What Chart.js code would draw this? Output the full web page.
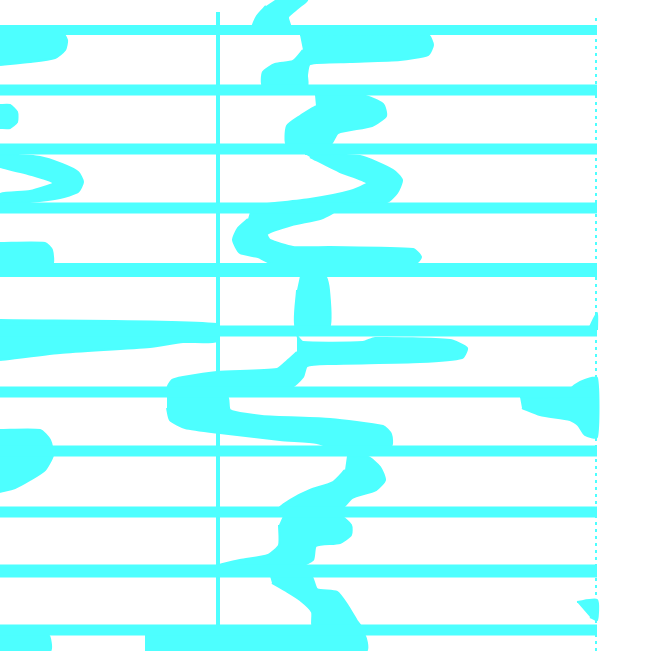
<!DOCTYPE html>
<html>
<head>
<meta charset="utf-8">
<script src="https://cdn.jsdelivr.net/npm/chart.js@4.4.1/dist/chart.umd.min.js"></script>
<style>
html,body{margin:0;padding:0;background:#fff;}
#wrap{width:657px;height:651px;position:relative;}
</style>
</head>
<body>
<div id="wrap"><canvas id="c"></canvas></div>
<script>
// ---- data (in plot units) ----
const bandLevels = [30, 90, 149, 208, 270, 331, 392, 451, 512, 571, 630];
const bandRange = [0, 597];
const axisLine = [[218, 12], [218, 630]];
const edgeLine = [[596, 18], [596, 651]];

const riverSeg0 = [[275,0],[307,0],[298,8],[288,17],[290,27],[253,27],[257,16],[266,6]];
const riverSeg1 = [[300,35],[428,35],[433,45],[428,55],[400,60],[350,62],[310,64],[307,75],[307,86],[263,86],[263,72],[275,64],[293,61],[303,50]];
const riverSeg2 = [[315,95],[362,95],[383,104],[386,116],[372,126],[338,133],[330,145],[287,145],[287,126],[300,116],[316,106]];
const riverSeg3 = [[305,154],[360,156],[393,170],[402,180],[397,193],[387,202],[352,205],[263,205],[267,204],[310,199],[350,191],[367,183],[340,172],[310,157]];
const riverSeg4 = [[250,212],[333,212],[320,219],[292,225],[267,234],[270,240],[293,247],[330,247],[413,249],[421,257],[415,264],[273,264],[258,257],[240,253],[233,240],[238,228],[248,219]];
const riverSeg5 = [[300,276],[325,276],[329,290],[329,328],[296,328],[297,290]];
const riverSeg6 = [[297,336],[303,342],[363,342],[375,338],[450,340],[467,348],[462,358],[420,362],[330,364],[307,366],[303,377],[290,388],[168,388],[172,380],[183,377],[217,372],[277,369],[287,361],[297,352]];
const riverSeg7 = [[167,396],[227,396],[230,410],[262,416],[330,419],[383,426],[391,434],[391,446],[330,447],[317,443],[280,440],[220,433],[185,428],[170,420],[167,408]];
const riverSeg8 = [[347,456],[368,457],[380,467],[385,480],[376,490],[352,498],[342,508],[280,508],[290,500],[310,490],[333,482],[345,470]];
const riverSeg9 = [[283,516],[340,516],[351,525],[351,535],[340,543],[316,546],[313,560],[300,566],[217,566],[240,560],[268,555],[279,545],[279,525]];
const riverSeg10 = [[270,576],[311,576],[317,589],[337,592],[348,606],[357,621],[361,627],[313,627],[312,612],[300,600],[286,591],[272,583]];
const riverSeg11 = [[145,634],[363,634],[366,651],[145,651]];

const leftBlobA = [[0,30],[60,30],[67,40],[65,50],[55,58],[30,62],[0,65]];
const leftBlobB = [[0,105],[10,105],[17,112],[17,122],[10,128],[0,128]];
const leftBlobC = [[0,154],[40,157],[62,164],[78,172],[83,182],[78,192],[60,198],[30,202],[0,204],[0,194],[30,191],[53,183],[32,175],[0,167]];
const leftBlobD = [[0,243],[45,243],[52,250],[52,265],[0,265]];
const leftBlobE = [[0,320],[217,324],[217,341],[183,342],[150,347],[60,353],[0,360]];
const leftBlobF = [[0,430],[40,430],[50,440],[53,455],[45,470],[30,480],[15,488],[0,492]];
const leftBlobG = [[0,635],[48,635],[50,651],[0,651]];
const rightBlobH = [[520,397],[560,397],[575,385],[585,380],[597,378],[597,437],[585,435],[578,425],[570,420],[540,415],[522,408]];
const rightBlobI = [[590,327],[597,313],[597,330]];
const rightBlobK = [[577,602],[597,600],[597,620],[590,617]];

// ---- styles ----
const CYAN = 'rgb(77,255,255)';
const bandWidths = [10, 11, 11, 11, 14, 11, 11, 11, 11, 13, 11];

const toPts = arr => arr.map(p => ({x: p[0], y: p[1]}));

const datasets = [];
bandLevels.forEach((y, i) => {
  datasets.push({
    data: [{x: bandRange[0], y: y}, {x: bandRange[1], y: y}],
    showLine: true, borderColor: CYAN, borderWidth: bandWidths[i],
    pointRadius: 0, fill: false, borderCapStyle: 'butt'
  });
});
datasets.push({
  data: toPts(axisLine), showLine: true, borderColor: CYAN, borderWidth: 4,
  pointRadius: 0, fill: false
});
datasets.push({
  data: toPts(edgeLine), showLine: true, borderColor: CYAN, borderWidth: 2,
  borderDash: [3, 4], pointRadius: 0, fill: false
});

const shapes = [riverSeg0, riverSeg1, riverSeg2, riverSeg3, riverSeg4, riverSeg5,
  riverSeg6, riverSeg7, riverSeg8, riverSeg9, riverSeg10, riverSeg11,
  leftBlobA, leftBlobB, leftBlobC, leftBlobD, leftBlobE, leftBlobF, leftBlobG,
  rightBlobH, rightBlobI, rightBlobK];
shapes.forEach(s => {
  datasets.push({
    data: toPts(s), showLine: true, borderColor: CYAN, backgroundColor: CYAN,
    borderWidth: 2, borderJoinStyle: 'round', pointRadius: 0, fill: 'shape', tension: 0.2
  });
});

new Chart(document.getElementById('c'), {
  type: 'scatter',
  data: { datasets },
  options: {
    responsive: true, maintainAspectRatio: false, animation: false,
    layout: { padding: 0 },
    plugins: { legend: { display: false }, tooltip: { enabled: false } },
    scales: {
      x: { type: 'linear', min: 0, max: 657, display: false },
      y: { type: 'linear', min: 0, max: 651, reverse: true, display: false }
    }
  }
});
</script>
</body>
</html>
